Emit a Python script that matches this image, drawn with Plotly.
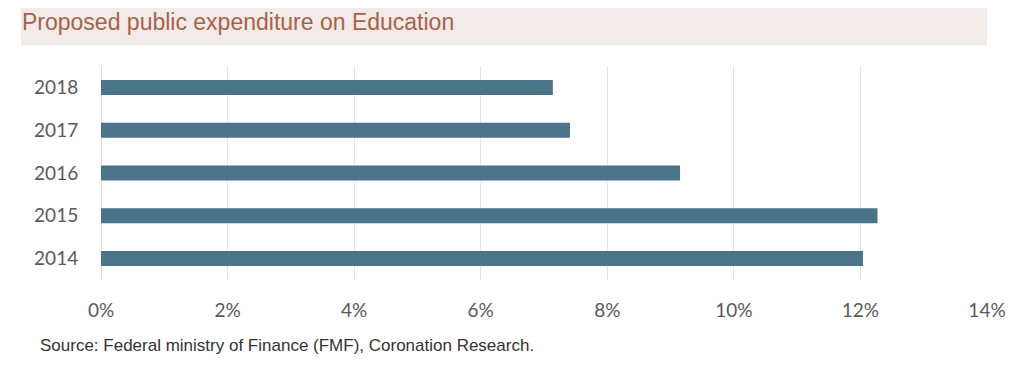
import plotly.graph_objects as go

years = ["2014", "2015", "2016", "2017", "2018"]
values = [12.04, 12.27, 9.15, 7.41, 7.14]
tick_vals = [0, 2, 4, 6, 8, 10, 12, 14]
tick_text = ["0%", "2%", "4%", "6%", "8%", "10%", "12%", "14%"]

# page body has an 8px margin; work in window pixels and shift
OFF = 8
W, H = 1024 - OFF, 368 - OFF
L = 101 - OFF
R = W - (987 - OFF)
T = 65.5 - OFF
B = H - (280.5 - OFF)
pw = W - L - R
ph = H - T - B

def px_x(x):
    return (x - OFF - L) / pw

def px_y(y):
    return (H - B - (y - OFF)) / ph

fig = go.Figure()
fig.add_trace(go.Bar(
    y=years, x=values, orientation="h",
    marker=dict(color="#4a7489", line=dict(width=0)),
    width=0.35,
    hoverinfo="skip",
))

fig.update_layout(
    width=W, height=H,
    margin=dict(l=L, r=R, t=T, b=B, pad=0),
    paper_bgcolor="white", plot_bgcolor="white",
    showlegend=False,
    xaxis=dict(
        range=[0, 14], tickvals=tick_vals, ticktext=tick_text,
        showgrid=True, gridcolor="#e4e4e4", gridwidth=1,
        zeroline=True, zerolinecolor="#dcdcdc", zerolinewidth=1,
        tickfont=dict(family="Lato, Open Sans, sans-serif", size=19, color="#595959"),
        ticks="outside", ticklen=13, tickcolor="rgba(0,0,0,0)",
        fixedrange=True,
    ),
    yaxis=dict(
        range=[-0.5, 4.5], type="category",
        showgrid=False, zeroline=False,
        tickfont=dict(family="Lato, Open Sans, sans-serif", size=19, color="#595959"),
        ticks="outside", ticklen=18, tickcolor="rgba(0,0,0,0)",
        fixedrange=True,
    ),
    shapes=[
        dict(type="rect", xref="paper", yref="paper",
             x0=px_x(21), x1=px_x(987), y0=px_y(45), y1=px_y(0),
             fillcolor="#f3ebe7", line=dict(width=0), layer="below"),
    ],
    annotations=[
        dict(text="Proposed public expenditure on Education",
             xref="paper", yref="paper", x=px_x(20), y=px_y(21),
             xanchor="left", yanchor="middle", showarrow=False,
             font=dict(family="Liberation Sans, Arial, sans-serif", size=23, color="#a9614b")),
        dict(text="Source: Federal ministry of Finance (FMF), Coronation Research.",
             xref="paper", yref="paper", x=px_x(38), y=px_y(346),
             xanchor="left", yanchor="middle", showarrow=False,
             font=dict(family="Liberation Sans, Arial, sans-serif", size=17, color="#333333")),
    ],
)

fig.write_html("out.html")
